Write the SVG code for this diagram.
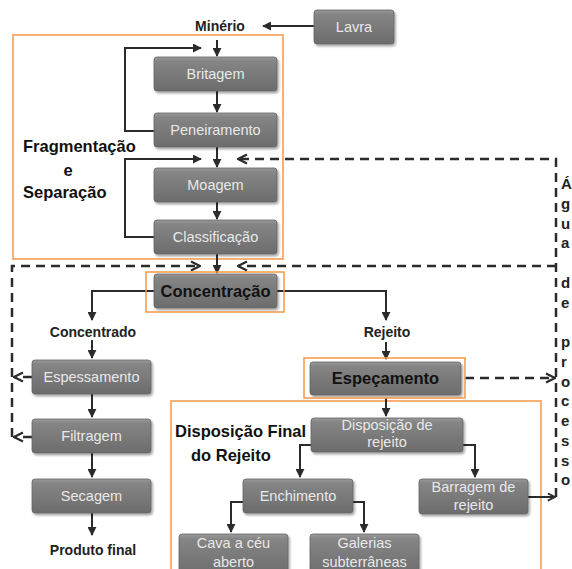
<svg xmlns="http://www.w3.org/2000/svg" width="572" height="569" viewBox="0 0 572 569">
  <defs>
    <linearGradient id="boxFill" x1="0" y1="0" x2="0" y2="1">
      <stop offset="0" stop-color="#9a9a9a"/>
      <stop offset="0.12" stop-color="#858585"/>
      <stop offset="1" stop-color="#6c6c6c"/>
    </linearGradient>
    <filter id="shadow" x="-10%" y="-20%" width="125%" height="150%">
      <feDropShadow dx="1.5" dy="2" stdDeviation="1.2" flood-color="#000" flood-opacity="0.35"/>
    </filter>
    <marker id="arrow" viewBox="0 0 10 10" refX="9" refY="5" markerWidth="4.5" markerHeight="4.5" orient="auto">
      <path d="M0,0 L10,5 L0,10 Z" fill="#2b2b2b"/>
    </marker>
    <marker id="openArrow" viewBox="0 0 10 10" refX="9" refY="5" markerWidth="4.5" markerHeight="4.5" orient="auto">
      <path d="M1,1 L9,5 L1,9" fill="none" stroke="#2b2b2b" stroke-width="2"/>
    </marker>
    <style>
      .box { fill: url(#boxFill); stroke: #666; stroke-width: 0.8; filter: url(#shadow); }
      .boxText { font-family: "Liberation Sans", Arial, sans-serif; font-size: 14.5px; fill: #e8e8e8; text-anchor: middle; }
      .boxBold { font-family: "Liberation Sans", Arial, sans-serif; font-size: 16.5px; font-weight: bold; fill: #111; text-anchor: middle; }
      .label { font-family: "Liberation Sans", Arial, sans-serif; font-size: 14px; font-weight: bold; fill: #222; text-anchor: middle; }
      .group { font-family: "Liberation Sans", Arial, sans-serif; font-size: 16.5px; font-weight: bold; fill: #111; }
      .side { font-family: "Liberation Sans", Arial, sans-serif; font-size: 15px; font-weight: bold; fill: #222; }
      .frame { fill: none; stroke: #f79646; stroke-width: 1.5; }
      .line { fill: none; stroke: #2b2b2b; stroke-width: 2; }
      .dash { fill: none; stroke: #2b2b2b; stroke-width: 2.5; stroke-dasharray: 9 6; }
    </style>
  </defs>

  <rect width="572" height="569" fill="#fff"/>

  <!-- stage frames -->
  <g id="frames">
    <rect class="frame" x="13" y="35" width="270" height="224"/>
    <rect class="frame" x="171" y="401" width="370" height="180"/>
  </g>

  <!-- connectors -->
  <g id="connectors">
    <path class="line" d="M314,26 L263,26" marker-end="url(#arrow)"/>
    <path class="line" d="M217,40 L217,56" marker-end="url(#arrow)"/>
    <path class="line" d="M217,91 L217,112" marker-end="url(#arrow)"/>
    <path class="line" d="M217,147 L217,167" marker-end="url(#arrow)"/>
    <path class="line" d="M217,202 L217,219" marker-end="url(#arrow)"/>
    <path class="line" d="M217,254 L217,273" marker-end="url(#arrow)"/>
    <path class="line" d="M154,131 L125,131 L125,48 L201,48" marker-end="url(#arrow)"/>
    <path class="line" d="M154,237 L125,237 L125,159 L201,159" marker-end="url(#arrow)"/>
    <path class="line" d="M154,291 L92,291 L92,320" marker-end="url(#arrow)"/>
    <path class="line" d="M277,291 L386,291 L386,320" marker-end="url(#arrow)"/>
    <path class="line" d="M92,340 L92,358" marker-end="url(#arrow)"/>
    <path class="line" d="M92,394 L92,417" marker-end="url(#arrow)"/>
    <path class="line" d="M92,453 L92,477" marker-end="url(#arrow)"/>
    <path class="line" d="M92,513 L92,535" marker-end="url(#arrow)"/>
    <path class="line" d="M386,342 L386,359" marker-end="url(#arrow)"/>
    <path class="line" d="M386,398 L386,416" marker-end="url(#arrow)"/>
    <path class="line" d="M311,445 L300,445 L300,477" marker-end="url(#arrow)"/>
    <path class="line" d="M463,445 L475,445 L475,477" marker-end="url(#arrow)"/>
    <path class="line" d="M243,502 L231,502 L231,532" marker-end="url(#arrow)"/>
    <path class="line" d="M353,502 L364,502 L364,532" marker-end="url(#arrow)"/>
    <path class="line" d="M528,497 L555,497" marker-end="url(#openArrow)"/>
    <!-- process water return -->
    <path class="dash" d="M556,497 L556,159 L238,159" marker-end="url(#openArrow)"/>
    <path class="dash" d="M556,266 L238,266" marker-end="url(#openArrow)"/>
    <path class="dash" d="M465,378 L555,378" marker-end="url(#openArrow)"/>
    <path class="dash" d="M12,437 L12,266 L200,266" marker-end="url(#openArrow)"/>
    <path class="dash" d="M32,377 L14,377" stroke-dasharray="6 4" marker-end="url(#openArrow)"/>
    <path class="dash" d="M32,437 L14,437" stroke-dasharray="6 4" marker-end="url(#openArrow)"/>
  </g>

  <!-- free labels -->
  <g id="labels">
    <text class="label" x="220" y="31" font-size="15">Minério</text>
    <text class="label" x="93" y="337">Concentrado</text>
    <text class="label" x="387" y="337">Rejeito</text>
    <text class="label" x="93" y="555">Produto final</text>
    <text class="group" x="23" y="152">Fragmentação</text>
    <text class="group" x="68" y="176" text-anchor="middle">e</text>
    <text class="group" x="23" y="198">Separação</text>
    <text class="group" x="175" y="437">Disposição Final</text>
    <text class="group" x="191" y="461">do Rejeito</text>
    <text class="side" x="561">
      <tspan x="561" y="189">Á</tspan>
      <tspan x="561" y="208.75">g</tspan>
      <tspan x="561" y="228.5">u</tspan>
      <tspan x="561" y="248.25">a</tspan>
      <tspan x="561" y="287.75">d</tspan>
      <tspan x="561" y="307.5">e</tspan>
      <tspan x="561" y="347">p</tspan>
      <tspan x="561" y="366.75">r</tspan>
      <tspan x="561" y="386.5">o</tspan>
      <tspan x="561" y="406.25">c</tspan>
      <tspan x="561" y="426">e</tspan>
      <tspan x="561" y="445.75">s</tspan>
      <tspan x="561" y="465.5">s</tspan>
      <tspan x="561" y="485.25">o</tspan>
    </text>
  </g>

  <!-- process nodes -->
  <g id="lavra"><rect class="box" x="314" y="10" width="80" height="34" rx="3"/><text class="boxText" x="354" y="32">Lavra</text></g>
  <g id="britagem"><rect class="box" x="154" y="57" width="123" height="34" rx="3"/><text class="boxText" x="215.5" y="79">Britagem</text></g>
  <g id="peneiramento"><rect class="box" x="154" y="113" width="123" height="34" rx="3"/><text class="boxText" x="215.5" y="135">Peneiramento</text></g>
  <g id="moagem"><rect class="box" x="154" y="168" width="123" height="34" rx="3"/><text class="boxText" x="215.5" y="190">Moagem</text></g>
  <g id="classificacao"><rect class="box" x="154" y="220" width="123" height="34" rx="3"/><text class="boxText" x="215.5" y="242">Classificação</text></g>
  <g id="concentracao">
    <rect class="box" x="154" y="274" width="123" height="34" rx="3"/>
    <rect class="frame" x="146" y="272" width="138" height="40"/>
    <text class="boxBold" x="215.5" y="297">Concentração</text>
  </g>
  <g id="espessamento"><rect class="box" x="32" y="360" width="119" height="34" rx="3"/><text class="boxText" x="91.5" y="382">Espessamento</text></g>
  <g id="filtragem"><rect class="box" x="32" y="419" width="119" height="34" rx="3"/><text class="boxText" x="91.5" y="441">Filtragem</text></g>
  <g id="secagem"><rect class="box" x="32" y="479" width="119" height="34" rx="3"/><text class="boxText" x="91.5" y="501">Secagem</text></g>
  <g id="espessamento-rejeito">
    <rect class="box" x="310" y="362" width="151" height="33" rx="3"/>
    <rect class="frame" x="304" y="358" width="161" height="40"/>
    <text class="boxBold" x="385.5" y="384">Espeçamento</text>
  </g>
  <g id="disposicao"><rect class="box" x="311" y="418" width="152" height="34" rx="3"/><text class="boxText" x="387" y="430">Disposição de</text><text class="boxText" x="387" y="447">rejeito</text></g>
  <g id="enchimento"><rect class="box" x="243" y="479" width="110" height="34" rx="3"/><text class="boxText" x="298" y="501">Enchimento</text></g>
  <g id="barragem"><rect class="box" x="419" y="479" width="109" height="35" rx="3"/><text class="boxText" x="473.5" y="492">Barragem de</text><text class="boxText" x="473.5" y="510">rejeito</text></g>
  <g id="cava"><rect class="box" x="179" y="534" width="109" height="42" rx="3"/><text class="boxText" x="233.5" y="548">Cava a céu</text><text class="boxText" x="233.5" y="567">aberto</text></g>
  <g id="galerias"><rect class="box" x="310" y="534" width="109" height="42" rx="3"/><text class="boxText" x="364.5" y="548">Galerias</text><text class="boxText" x="364.5" y="567">subterrâneas</text></g>
</svg>
